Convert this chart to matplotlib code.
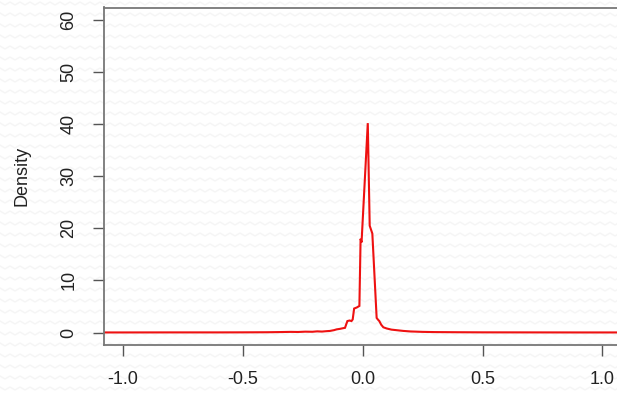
import numpy as np
import matplotlib
matplotlib.use("Agg")
import matplotlib.pyplot as plt

# ---- data ----
dens_x = [-1.20, -1.00, -0.80, -0.60, -0.50, -0.40, -0.35, -0.30, -0.27, -0.24,
          -0.21, -0.19, -0.17, -0.15, -0.137, -0.12, -0.109, -0.095, -0.085, -0.074,
          -0.068, -0.064, -0.055, -0.047, -0.042, -0.036, -0.025, -0.014, -0.009, -0.005,
          0.021, 0.029, 0.040, 0.058, 0.063, 0.069, 0.077, 0.086, 0.100, 0.120,
          0.142, 0.170, 0.200, 0.250, 0.300, 0.400, 0.500, 0.700, 0.900, 1.200]
dens_y = [0.01, 0.01, 0.02, 0.02, 0.03, 0.05, 0.08, 0.12, 0.10, 0.16,
          0.14, 0.22, 0.18, 0.26, 0.30, 0.45, 0.60, 0.70, 0.80, 0.90,
          1.70, 2.20, 2.30, 2.20, 2.50, 4.60, 4.80, 5.10, 18.0, 17.3,
          40.2, 20.5, 19.0, 2.80, 2.50, 2.20, 1.50, 1.00, 0.77, 0.55,
          0.44, 0.30, 0.20, 0.12, 0.08, 0.05, 0.03, 0.02, 0.01, 0.01]
x_ticks = [-1.0, -0.5, 0.0, 0.5, 1.0]
x_tick_labels = ["-1.0", "-0.5", "0.0", "0.5", "1.0"]
y_ticks = [0, 10, 20, 30, 40, 50, 60]
y_tick_labels = ["0", "10", "20", "30", "40", "50", "60"]

plt.rcParams['font.family'] = ['Liberation Sans', 'DejaVu Sans']

W, H = 617, 394
fig = plt.figure(figsize=(W / 100, H / 100), dpi=100)
fig.patch.set_facecolor('white')

# very faint zig-zag background texture
bg = fig.add_axes([0, 0, 1, 1], zorder=-10)
bg.set_xlim(0, W)
bg.set_ylim(H, 0)
bg.axis('off')
zx = np.arange(0, W + 10, 5.0)
for row in np.arange(2, H + 11, 11.0):
    zy = row + np.where((np.arange(len(zx)) % 2) == 0, 0, 3.0)
    bg.plot(zx, zy, color='#f5f5f5', lw=1.0)

# main axes (right edge falls just outside the picture)
left, right, top, bottom = 104, 621.5, 7.5, 345
ax = fig.add_axes([left / W, 1 - bottom / H, (right - left) / W, (bottom - top) / H])
ax.set_facecolor('none')
ax.plot(dens_x, dens_y, color='#ee1111', lw=1.5, solid_joinstyle='miter')
ax.set_xlim(-1.08, 1.08)
ax.set_ylim(-2.4, 62.4)

for s in ['left', 'bottom', 'top', 'right']:
    ax.spines[s].set_color('#777777')
    ax.spines[s].set_linewidth(1.3)

ax.set_xticks(x_ticks)
ax.set_xticklabels(x_tick_labels)
ax.set_yticks(y_ticks)
ax.set_yticklabels(y_tick_labels, rotation=90, va='center')
ax.tick_params(axis='both', direction='out', length=8, width=1.0, color='#555555',
               labelsize=13, labelcolor='#222222')
ax.tick_params(axis='x', pad=11)
ax.tick_params(axis='y', pad=11)

fig.text(22 / W, 1 - 176 / H, 'Density', rotation=90, ha='center', va='center',
         fontsize=13, color='#222222')

fig.savefig('out.png', dpi=100)
